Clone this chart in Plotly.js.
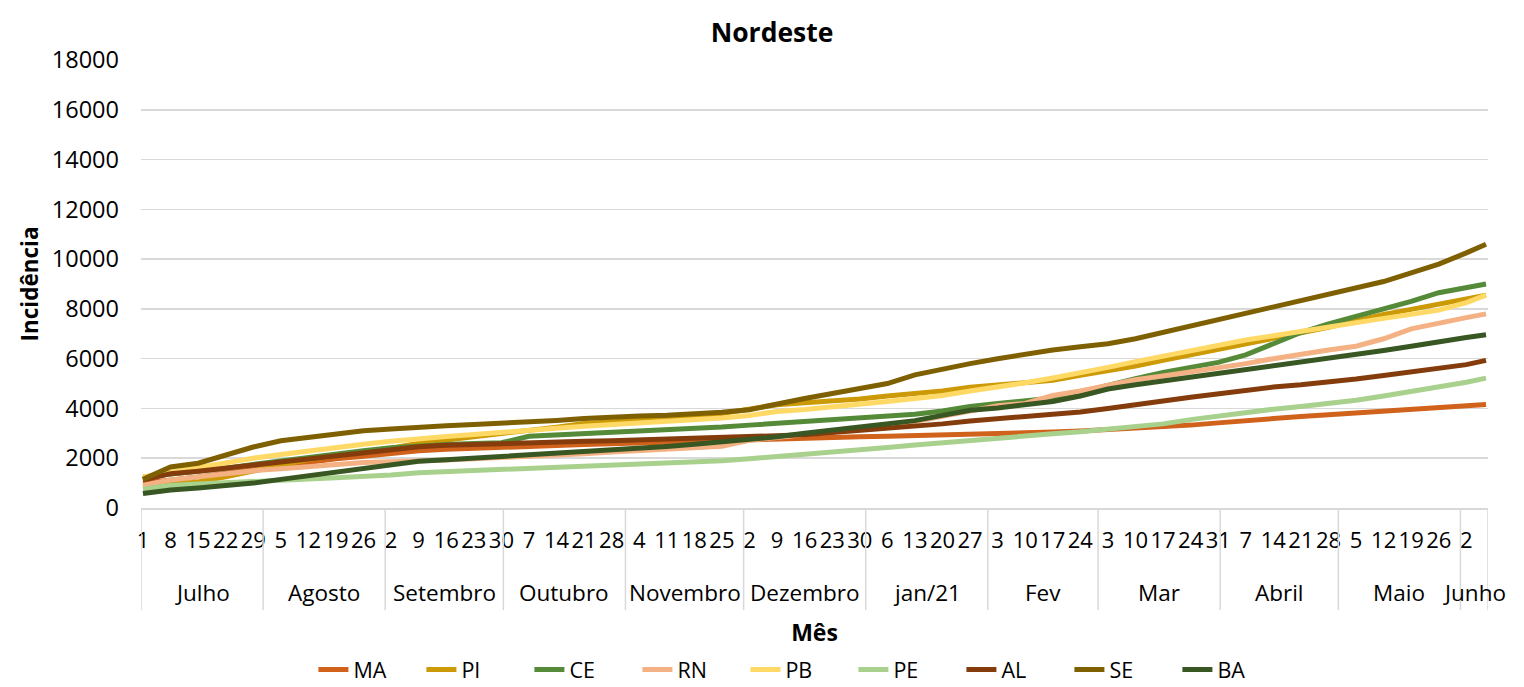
<!DOCTYPE html>
<html>
<head>
<meta charset="utf-8">
<script src="https://cdn.plot.ly/plotly-3.0.1.min.js"></script>
<style>
  html, body { margin: 0; padding: 0; background: #fff; }
  #chart { width: 1524px; height: 687px; }
</style>
</head>
<body>
<div id="chart"></div>
<script>
// Day index (days since 1 Jul 2020) of each sampled value
const sampleDays = [0,7,14,21,28,35,42,49,56,63,70,77,84,91,98,105,112,119,126,133,140,147,154,161,168,175,182,189,196,203,210,217,224,231,238,245,252,259,266,273,280,287,294,301,308,315,322,329,336,341];

const MA = [1000,1100,1250,1400,1550,1700,1850,1980,2080,2200,2300,2360,2410,2440,2470,2510,2550,2585,2620,2650,2700,2740,2770,2800,2830,2850,2865,2880,2900,2930,2960,2990,3020,3050,3090,3140,3200,3260,3330,3420,3520,3600,3680,3750,3830,3900,3980,4050,4110,4160];
const PI = [850,950,1050,1250,1500,1750,1950,2100,2230,2400,2600,2720,2850,2980,3120,3250,3400,3470,3530,3600,3660,3800,3980,4150,4230,4300,4380,4500,4580,4700,4850,4950,5050,5130,5330,5500,5700,5930,6150,6350,6550,6780,7020,7260,7520,7780,7980,8180,8420,8550];
const CE = [1250,1350,1450,1600,1750,1900,2050,2200,2300,2420,2500,2550,2590,2620,2880,2930,2980,3040,3080,3130,3190,3250,3330,3400,3460,3520,3600,3680,3770,3900,4080,4200,4290,4420,4650,4950,5200,5450,5650,5850,6150,6600,7050,7400,7700,7950,8300,8650,8850,9000];
const RN = [920,1125,1250,1400,1500,1580,1680,1760,1830,1860,1880,1930,1980,2020,2060,2120,2180,2250,2300,2350,2430,2480,2720,2830,2950,3050,3170,3290,3470,3690,3900,4110,4200,4520,4700,4950,5150,5300,5450,5600,5800,6000,6200,6350,6500,6800,7200,7400,7650,7800];
const PB = [1250,1450,1620,1850,2000,2150,2300,2430,2560,2680,2790,2870,2950,3050,3130,3200,3280,3340,3420,3480,3530,3620,3720,3880,3960,4050,4150,4280,4400,4520,4700,4850,5030,5220,5420,5650,5880,6100,6320,6520,6750,6920,7100,7300,7450,7620,7780,7950,8250,8550];
const PE = [750,900,960,1000,1050,1110,1170,1220,1260,1330,1420,1460,1500,1540,1580,1620,1660,1700,1740,1790,1850,1900,1980,2060,2160,2250,2340,2430,2530,2630,2720,2820,2900,2980,3060,3150,3260,3380,3550,3700,3800,3970,4080,4200,4330,4500,4680,4900,5050,5220];
const AL = [1120,1380,1480,1600,1720,1830,1950,2100,2200,2350,2460,2520,2560,2590,2620,2650,2680,2700,2730,2760,2800,2850,2880,2910,2940,3030,3110,3180,3280,3380,3500,3580,3680,3760,3860,4000,4130,4300,4450,4600,4720,4860,4950,5050,5180,5320,5460,5600,5760,5930];
const SE = [1150,1650,1800,2150,2450,2700,2850,3000,3100,3170,3250,3300,3350,3400,3450,3520,3600,3670,3700,3730,3780,3850,3950,4200,4400,4600,4800,5000,5350,5600,5800,6000,6200,6350,6480,6600,6800,7050,7300,7550,7800,8050,8300,8550,8850,9100,9450,9800,10250,10600];
const BA = [580,720,800,880,1000,1150,1300,1450,1620,1750,1880,1940,2000,2070,2140,2200,2270,2340,2400,2470,2560,2650,2750,2860,3000,3130,3250,3360,3510,3720,3930,4020,4150,4280,4500,4780,4950,5100,5250,5420,5580,5730,5900,6030,6170,6330,6500,6700,6850,6960];

const seriesNames = ['MA','PI','CE','RN','PB','PE','AL','SE','BA'];
const seriesValues = [MA, PI, CE, RN, PB, PE, AL, SE, BA];
const seriesColors = ['#D0621B','#CC9A06','#558A38','#F4B183','#FFD966','#A9D18E','#843C0C','#7F6000','#385723'];

// Category axis: weekly day labels and month groups
const tickDays = [0,7,14,21,28,35,42,49,56,63,70,77,84,91,98,105,112,119,126,133,140,147,154,161,168,175,182,189,196,203,210,217,224,231,238,245,252,259,266,273,280,287,294,301,308,315,322,329,336];
const tickLabels = ['1','8','15','22','29','5','12','19','26','2','9','16','23','30','7','14','21','28','4','11','18','25','2','9','16','23','30','6','13','20','27','3','10','17','24','3','10','17','24','31','7','14','21','28','5','12','19','26','2'];
const monthLabels = ['Julho','Agosto','Setembro','Outubro','Novembro','Dezembro','jan/21','Fev','Mar','Abril','Maio','Junho'];
const monthLengths = [31,31,30,31,30,31,31,28,31,30,31,7];

const FONT = 'Open Sans, Lato, DejaVu Sans, sans-serif';
const GRID = '#D9D9D9';

const traces = seriesNames.map((name, i) => ({
  type: 'scatter',
  mode: 'lines',
  name: name,
  x: sampleDays,
  y: seriesValues[i],
  line: { color: seriesColors[i], width: 5, shape: 'linear' },
  hoverinfo: 'skip'
}));

// month separators and labels
const shapes = [];
const annotations = [];
let start = 0;
shapes.push({ type: 'line', xref: 'x', yref: 'paper', x0: start - 0.5, x1: start - 0.5, y0: 0, y1: -0.228, line: { color: GRID, width: 1.5 } });
monthLabels.forEach((m, i) => {
  const end = start + monthLengths[i];
  shapes.push({ type: 'line', xref: 'x', yref: 'paper', x0: end - 0.5, x1: end - 0.5, y0: 0, y1: -0.228, line: { color: GRID, width: 1.5 } });
  annotations.push({
    xref: 'x', yref: 'paper', x: (start + end - 1) / 2, y: -0.1875,
    text: m, showarrow: false, xanchor: 'center', yanchor: 'middle',
    font: { family: FONT, size: 22.5, color: '#000' }
  });
  start = end;
});

const layout = {
  width: 1524, height: 687,
  margin: { l: 141, r: 36, t: 60, b: 179, autoexpand: false },
  paper_bgcolor: '#fff', plot_bgcolor: '#fff',
  font: { family: FONT, color: '#000' },
  title: {
    text: '<b>Nordeste</b>', xref: 'container', yref: 'container',
    x: 0.5066, y: 0.952, xanchor: 'center', yanchor: 'middle',
    font: { family: FONT, size: 26.5, color: '#000' }
  },
  xaxis: {
    range: [-0.5, sampleDays[sampleDays.length - 1] + 0.5],
    tickmode: 'array', tickvals: tickDays, ticktext: tickLabels,
    tickangle: 0, ticks: '', ticklabelstandoff: 12,
    showgrid: false, zeroline: false,
    showline: true, linecolor: GRID, linewidth: 1.5,
    tickfont: { family: FONT, size: 22, color: '#000' },
    title: { text: '<b>Mês</b>', font: { family: FONT, size: 23, color: '#000' }, standoff: 72 },
    fixedrange: true
  },
  yaxis: {
    range: [0, 18000], dtick: 2000, tick0: 0, tickformat: 'd',
    ticks: '', ticklabelstandoff: 21,
    showgrid: true, gridcolor: GRID, gridwidth: 1.5,
    zeroline: false, showline: false,
    tickfont: { family: FONT, size: 23.5, color: '#000' },
    title: { text: '<b>Incidência</b>', font: { family: FONT, size: 22.5, color: '#000' }, standoff: 6 },
    fixedrange: true
  },
  legend: {
    orientation: 'h', x: 0.128, xanchor: 'left', y: -0.315, yanchor: 'top',
    entrywidth: 63, entrywidthmode: 'pixels',
    font: { family: FONT, size: 21.5, color: '#000' },
    traceorder: 'normal', bgcolor: 'rgba(0,0,0,0)'
  },
  shapes: shapes,
  annotations: annotations,
  showlegend: true
};

Plotly.newPlot('chart', traces, layout, { displayModeBar: false, staticPlot: true });
</script>
</body>
</html>
